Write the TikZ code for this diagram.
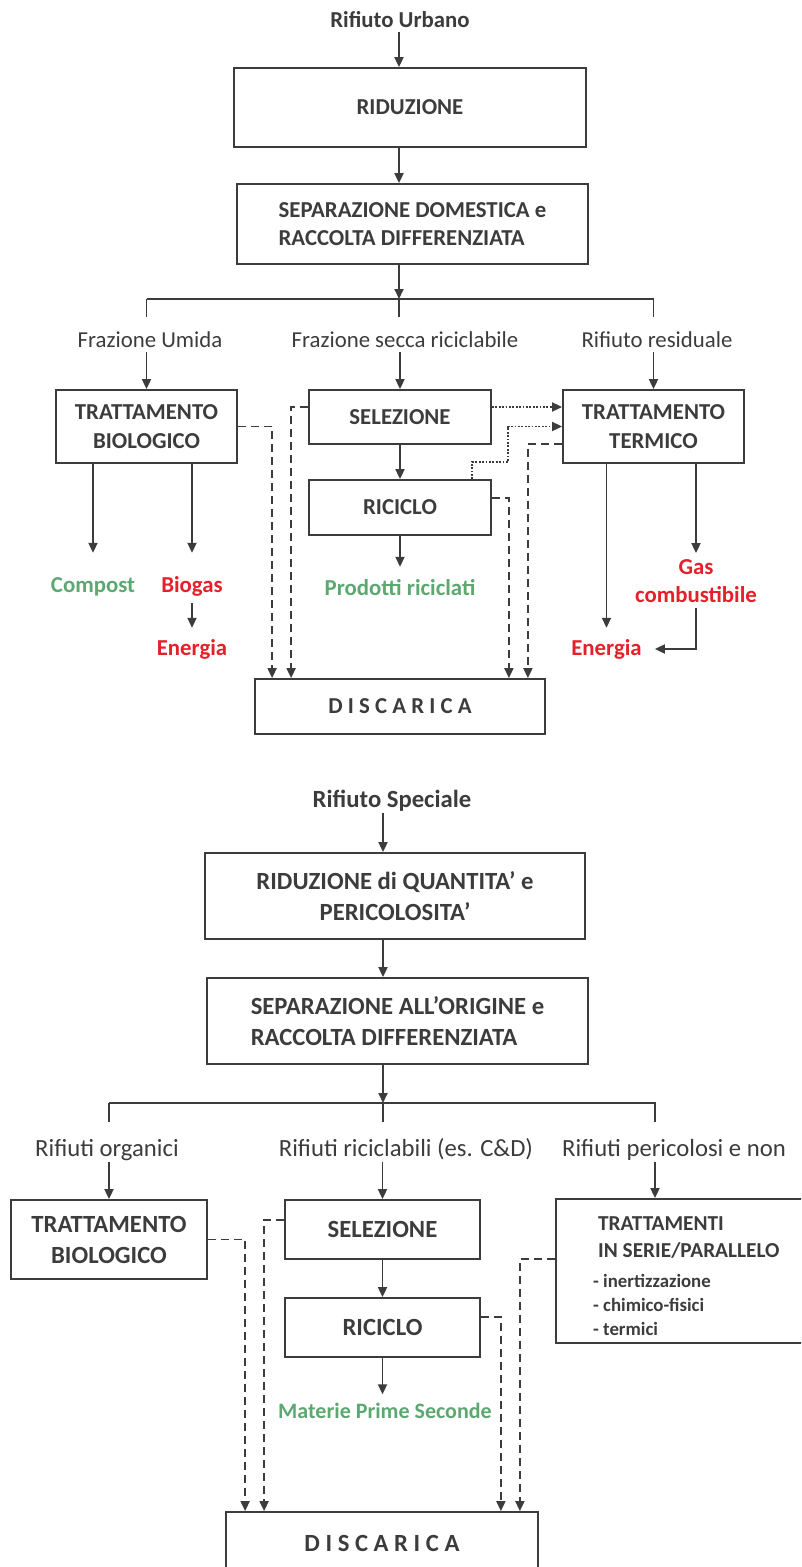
\documentclass[tikz,border=0pt]{standalone}
\usepackage{fontspec}
\setmainfont{Carlito}
\usetikzlibrary{arrows.meta}
\definecolor{ink}{RGB}{60,60,60}
\definecolor{verde}{RGB}{92,168,112}
\definecolor{rosso}{RGB}{228,32,42}
\def\ftop{\fontsize{22.8}{28.3}\selectfont}
\def\fbot{\fontsize{24.7}{31}\selectfont}
\tikzset{
  box/.style={draw=ink,line width=1.8pt,inner sep=0pt,align=center,text=ink},
  lab/.style={inner sep=0pt,text=ink},
  res/.style={inner sep=0pt,font=\bfseries\ftop,text height=17pt,text depth=5pt},
  ln/.style={draw=ink,line width=1.8pt},
  arr/.style={ln,-{Triangle[length=10pt,width=9pt]}},
  dsh/.style={arr,dash pattern=on 8pt off 5pt},
  dtt/.style={arr,dash pattern=on 1.8pt off 1.6pt},
}
\begin{document}
\begin{tikzpicture}[x=1pt,y=-1pt]
\useasboundingbox (0,0) rectangle (801,1567);
\clip (0,0) rectangle (801,1567);
% rifiuto urbano
\begin{scope}[box/.append style={font=\bfseries\ftop},
  lab/.append style={font=\ftop,text height=17pt,text depth=5pt}]
\node[lab,font=\bfseries\ftop] (uRif) at (400,21) {Rifiuto Urbano};
\node[box,minimum width=352pt,minimum height=79pt] (uRid) at (410,107.5) {RIDUZIONE};
\node[box,align=left,minimum width=351pt,minimum height=80pt] (uSep) at (412.5,224) {SEPARAZIONE DOMESTICA e\\RACCOLTA DIFFERENZIATA};
\coordinate (uBr) at (399,299);
\node[lab] (uFU) at (150,341) {Frazione Umida};
\node[lab] (uFS) at (405,341) {Frazione secca riciclabile};
\node[lab] (uRR) at (657,341) {Rifiuto residuale};
\node[box,minimum width=181pt,minimum height=73pt] (uBio) at (146.5,426.5) {TRATTAMENTO\\BIOLOGICO};
\node[box,minimum width=182pt,minimum height=54pt] (uSel) at (400,417) {SELEZIONE};
\node[box,minimum width=182pt,minimum height=55pt] (uRic) at (400,507.5) {RICICLO};
\node[box,minimum width=181pt,minimum height=73pt] (uTerm) at (653.5,426.5) {TRATTAMENTO\\TERMICO};
\node[box,minimum width=290pt,minimum height=55pt] (uDis) at (400,706.5) {D I S C A R I C A};
\node[res,text=verde] (uComp) at (93,586) {Compost};
\node[res,text=rosso] (uBiog) at (192,586) {Biogas};
\node[res,text=rosso] (uEn1) at (192,649) {Energia};
\node[res,text=verde] (uProd) at (400,589) {Prodotti riciclati};
\node[inner sep=0pt,align=center,font=\bfseries\ftop,text=rosso] (uGas) at (696,581) {Gas\\combustibile};
\node[res,text=rosso] (uEn2) at (606.5,649) {Energia};

\draw[arr] (uRif.south -| uBr) -- (uRid.north -| uBr);
\draw[arr] (uRid.south -| uBr) -- (uSep.north -| uBr);
\draw[arr] (uSep.south -| uBr) -- (uBr);
\draw[ln] (uBr) -- ++(0,18) (uBio |- uBr) -- ++(0,18)
  (uBio |- uBr) -- (uTerm |- uBr) -- ++(0,18);
\draw[arr] (uFU.south -| uBio) -- (uBio.north);
\draw[arr] (uFS.south -| uSel) -- (uSel.north);
\draw[arr] (uRR.south -| uTerm) -- (uTerm.north);
\draw[arr] (uSel) -- (uRic);
\draw[arr,shorten >=11pt] (uRic.south) -- (uProd.north);
\draw[arr,shorten >=22pt] (uComp.north |- uBio.south) -- (uComp.north);
\draw[arr,shorten >=22pt] (uBiog.north |- uBio.south) -- (uBiog.north);
\draw[arr,shorten <=6pt,shorten >=10pt] (uBiog.south) -- (uEn1.north);
\draw[arr,shorten >=10pt] (uEn2.north |- uTerm.south) -- (uEn2.north);
\draw[arr,shorten >=6pt] (uGas.north |- uTerm.south) -- (uGas.north);
\draw[arr,shorten <=5pt] (uGas.south) |- ([xshift=13pt]uEn2.east);

\draw[dsh] (uBio.east) -| ([xshift=18pt]uDis.north west);
\draw[dsh] ([yshift=10pt]uSel.west) -| ([xshift=37pt]uDis.north west);
\draw[dsh] ([yshift=9.5pt]uRic.east) -| ([xshift=-37pt]uDis.north east);
\draw[dsh] ([yshift=-17.5pt]uTerm.west) -| ([xshift=-18pt]uDis.north east);
\draw[dtt] ([yshift=10pt]uSel.east) -- ([yshift=19.5pt]uTerm.west);
\draw[dtt] ([xshift=72pt]uRic.north) -- ++(0,-17) -- ++(36,0) |- (uTerm.west);
\end{scope}
% rifiuto speciale
\begin{scope}[box/.append style={font=\bfseries\fbot},
  lab/.append style={font=\fbot,text height=18.5pt,text depth=5.5pt}]
\node[lab,font=\bfseries\fbot] (sRif) at (392,800.5) {Rifiuto Speciale};
\node[box,minimum width=380pt,minimum height=86pt] (sRid) at (395,896) {RIDUZIONE di QUANTITA’ e\\PERICOLOSITA’};
\node[box,align=left,minimum width=381pt,minimum height=86pt] (sSep) at (397.5,1021) {SEPARAZIONE ALL’ORIGINE e\\RACCOLTA DIFFERENZIATA};
\coordinate (sBr) at (383,1103);
\coordinate (sBrR) at (655,1103);
\node[lab] (sOrg) at (107,1149.5) {Rifiuti organici};
\node[lab] (sRcl) at (406,1149.5) {Rifiuti riciclabili (es. C\&D)};
\node[lab] (sPer) at (674,1149.5) {Rifiuti pericolosi e non};
\node[box,minimum width=196pt,minimum height=79pt] (sBio) at (109,1239.5) {TRATTAMENTO\\BIOLOGICO};
\node[box,minimum width=195pt,minimum height=59pt] (sSel) at (382.5,1229.5) {SELEZIONE};
\node[box,minimum width=195pt,minimum height=59pt] (sRic) at (382.5,1327.5) {RICICLO};
\node[box,minimum width=274pt,minimum height=144pt] (sTrat) at (693,1271) {};
\node[inner sep=0pt,anchor=north west,align=left,text=ink,
  font=\bfseries\fontsize{21.3}{27}\selectfont] (sTratT) at (598,1216) {TRATTAMENTI\\IN SERIE/PARALLELO};
\node[inner sep=0pt,anchor=north west,align=left,text=ink,
  font=\bfseries\fontsize{18.8}{24}\selectfont] (sTratL) at (593,1274) {- inertizzazione\\- chimico-fisici\\- termici};
\node[res,text=verde,font=\bfseries\fontsize{22}{26}\selectfont] (sMat) at (385,1412) {Materie Prime Seconde};
\node[box,minimum width=312pt,minimum height=62pt] (sDis) at (382,1543) {D I S C A R I C A};

\draw[arr] (sRif.south -| sBr) -- (sRid.north -| sBr);
\draw[arr] (sRid.south -| sBr) -- (sSep.north -| sBr);
\draw[arr] (sSep.south -| sBr) -- (sBr);
\draw[ln] (sBr) -- ++(0,19) (sBio |- sBr) -- ++(0,19)
  (sBio |- sBr) -- (sBrR) -- ++(0,19);
\draw[arr] (sOrg.south -| sBio) -- (sBio.north);
\draw[arr] (sRcl.south -| sSel) -- (sSel.north);
\draw[arr] (sPer.south -| sBrR) -- (sBrR |- sTrat.north);
\draw[arr] (sSel) -- (sRic);
\draw[arr,shorten >=6.5pt] (sRic.south) -- (sRic.south |- sMat.north);

\draw[dsh] (sBio.east) -| ([xshift=20pt]sDis.north west);
\draw[dsh] ([yshift=9.5pt]sSel.west) -| ([xshift=39pt]sDis.north west);
\draw[dsh] ([yshift=10.5pt]sRic.east) -| ([xshift=-38pt]sDis.north east);
\draw[dsh] ([yshift=12pt]sTrat.west) -| ([xshift=-19pt]sDis.north east);
\end{scope}
\end{tikzpicture}
\end{document}
